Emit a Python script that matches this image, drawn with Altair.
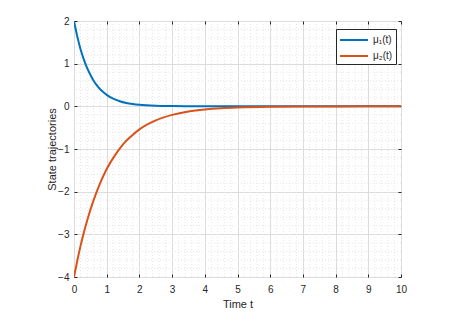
import altair as alt
import pandas as pd

# --- data ---
t1 = [0, 0.1, 0.2, 0.3, 0.4, 0.5, 0.6, 0.7, 0.8, 0.9, 1.0, 1.2, 1.4, 1.6, 1.8, 2.0, 2.5, 3.0, 3.5, 4.0, 5.0, 6.0, 8.0, 10.0]
mu1 = [2.0, 1.64, 1.34, 1.10, 0.90, 0.74, 0.60, 0.49, 0.40, 0.33, 0.27, 0.18, 0.12, 0.08, 0.055, 0.037, 0.013, 0.005, 0.002, 0.0007, 0.0001, 0.0, 0.0, 0.0]
t2 = [0, 0.1, 0.2, 0.3, 0.4, 0.6, 0.8, 1.0, 1.25, 1.5, 1.75, 2.0, 2.5, 3.0, 3.5, 4.0, 4.5, 5.0, 6.0, 7.0, 8.0, 9.0, 10.0]
mu2 = [-4.0, -3.62, -3.27, -2.96, -2.68, -2.20, -1.80, -1.47, -1.15, -0.89, -0.70, -0.54, -0.33, -0.20, -0.12, -0.073, -0.044, -0.027, -0.010, -0.004, -0.0013, -0.0005, 0.0]
names = ["μ₁(t)", "μ₂(t)"]
colors = ["#0072BD", "#D95319"]
x_major = list(range(0, 11))
y_major = [-4, -3, -2, -1, 0, 1, 2]
x_minor = [i / 5 for i in range(0, 51) if i % 5]
y_minor = [-4 + i / 5 for i in range(0, 31) if i % 5]

df = pd.concat([
    pd.DataFrame({"t": t1, "v": mu1, "s": names[0]}),
    pd.DataFrame({"t": t2, "v": mu2, "s": names[1]}),
])

FONT = "Liberation Sans"
TXT = "#262626"
xs = alt.Scale(domain=[0, 10], nice=False, zero=False)
ys = alt.Scale(domain=[-4, 2], nice=False, zero=False)
grid_minor = "#e6e6e6"
grid_major = "#dcdcdc"

x_axis = alt.Axis(values=x_major, grid=True, gridColor=grid_major, ticks=False,
                  domain=False, labelColor=TXT, labelFontSize=10, labelFont=FONT,
                  labelPadding=7, titleFont=FONT, titleFontSize=11, titleFontWeight="normal",
                  titleColor=TXT, titlePadding=4, labelFlush=False, orient="bottom")
y_axis = alt.Axis(values=y_major, grid=True, gridColor=grid_major, ticks=False,
                  domain=False, labelColor=TXT, labelFontSize=10, labelFont=FONT,
                  labelPadding=5, titleFont=FONT, titleFontSize=11, titleFontWeight="normal",
                  titleColor=TXT, titlePadding=0, labelFlush=False, orient="left")


def tick_axis(vals, orient):
    return alt.Axis(values=vals, orient=orient, labels=False, grid=False, domain=False,
                    ticks=True, tickSize=3, offset=-3, tickColor=TXT, tickWidth=1, title=None)


vminor = alt.Chart(pd.DataFrame({"m": x_minor})).mark_rule(
    color=grid_minor, strokeDash=[1, 2], strokeWidth=1
).encode(x=alt.X("m:Q", scale=xs, axis=x_axis, title="Time t"))

hminor = alt.Chart(pd.DataFrame({"m": y_minor})).mark_rule(
    color=grid_minor, strokeDash=[1, 2], strokeWidth=1
).encode(y=alt.Y("m:Q", scale=ys, axis=y_axis, title="State trajectories"))

lines = alt.Chart(df).mark_line(strokeWidth=2, interpolate="monotone", clip=True).encode(
    x=alt.X("t:Q", scale=xs, axis=None),
    y=alt.Y("v:Q", scale=ys, axis=None),
    color=alt.Color("s:N", scale=alt.Scale(domain=names, range=colors),
                    legend=alt.Legend(title=None, orient="none", legendX=262, legendY=8,
                                      symbolType="M-1,0H3", symbolSize=196, symbolStrokeWidth=2,
                                      labelFont=FONT, labelFontSize=10, labelColor=TXT,
                                      strokeColor=TXT, fillColor="white", padding=3,
                                      rowPadding=3, labelOffset=18)),
)

xt = pd.DataFrame({"m": x_major})
yt = pd.DataFrame({"m": y_major})
tick_layers = [
    alt.Chart(xt).mark_rule(strokeOpacity=0).encode(x=alt.X("m:Q", scale=xs, axis=tick_axis(x_major, "bottom"))),
    alt.Chart(xt).mark_rule(strokeOpacity=0).encode(x=alt.X("m:Q", scale=xs, axis=tick_axis(x_major, "top"))),
    alt.Chart(yt).mark_rule(strokeOpacity=0).encode(y=alt.Y("m:Q", scale=ys, axis=tick_axis(y_major, "left"))),
    alt.Chart(yt).mark_rule(strokeOpacity=0).encode(y=alt.Y("m:Q", scale=ys, axis=tick_axis(y_major, "right"))),
]

chart = alt.layer(vminor, hminor, lines, *tick_layers).resolve_axis(
    x="independent", y="independent"
).properties(
    width=327, height=256,
    padding={"left": 66, "top": 13, "right": 57, "bottom": 39},
    autosize=alt.AutoSizeParams(type="none"),
).configure_view(stroke=TXT, strokeWidth=1).configure(background="white")

chart.save("out.html", embed_options={"renderer": "svg", "actions": False})
